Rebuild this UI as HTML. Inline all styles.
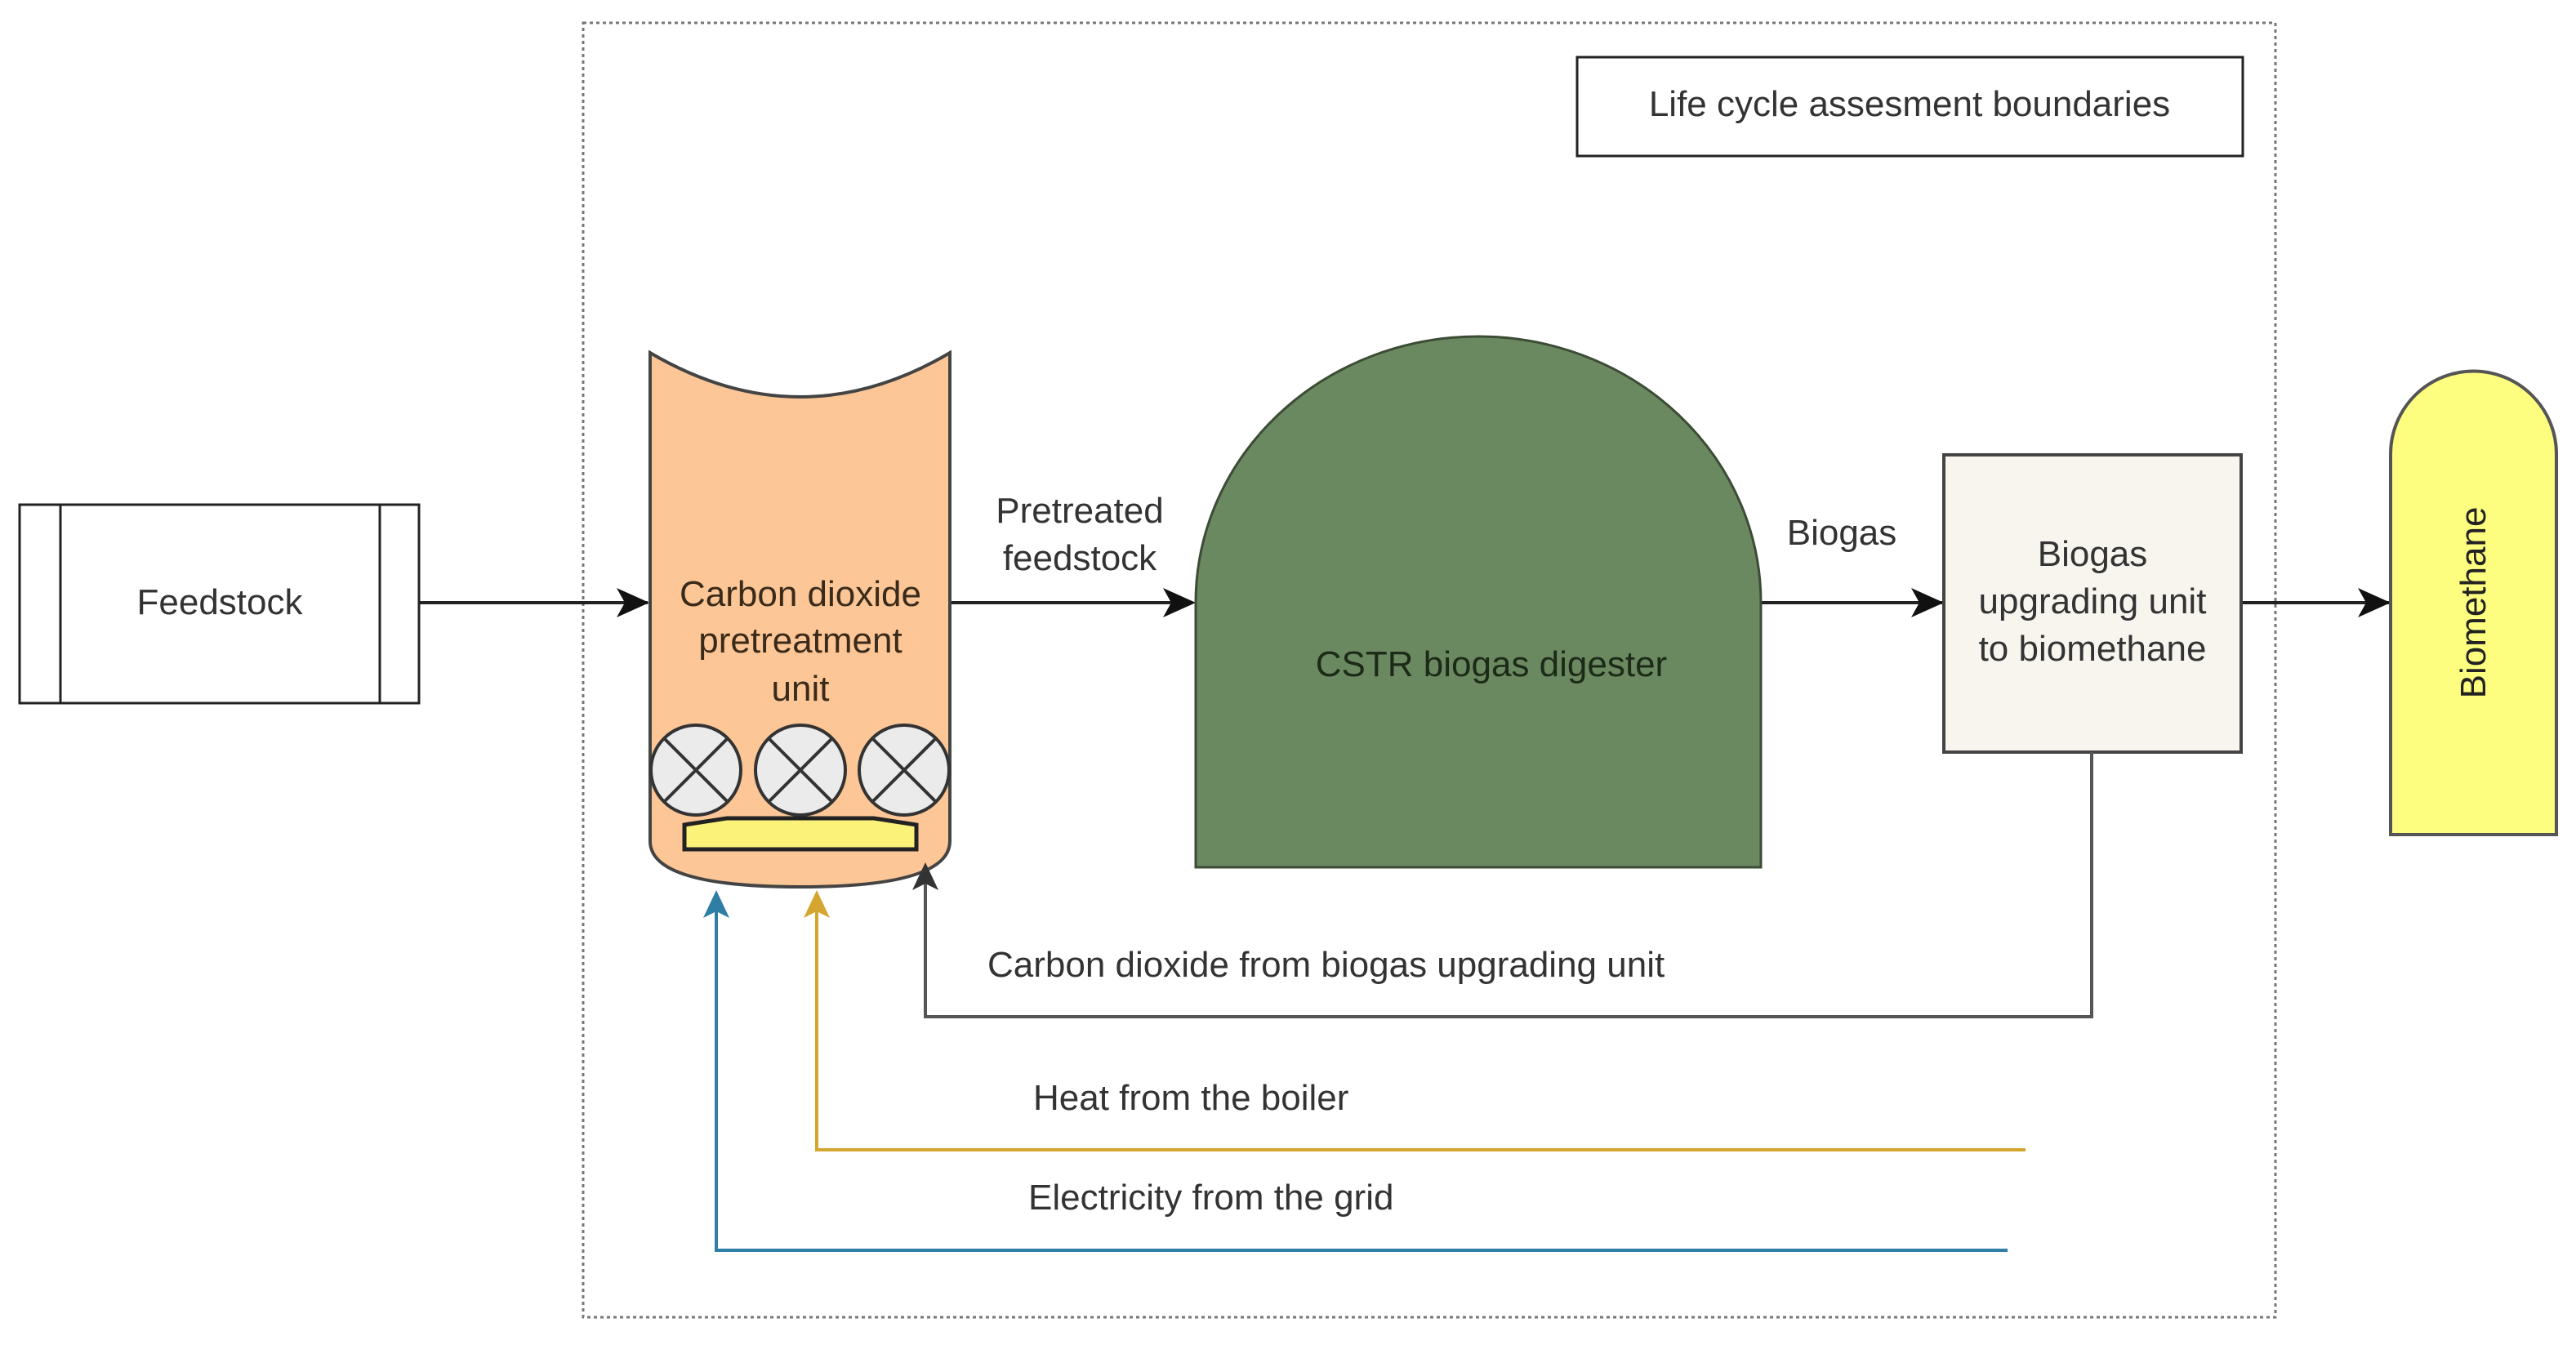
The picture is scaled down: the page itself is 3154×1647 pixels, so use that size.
<!DOCTYPE html>
<html><head><meta charset="utf-8"><style>
html,body{margin:0;padding:0;background:#fff}
svg{display:block}
text{font-family:"Liberation Sans",Arial,sans-serif;font-size:44px;fill:#333}
</style></head><body>
<svg width="3154" height="1647" viewBox="0 0 3154 1647" xmlns="http://www.w3.org/2000/svg">
<defs>
<marker id="ab" viewBox="0 0 10 10" refX="9" refY="5" markerWidth="10" markerHeight="10" markerUnits="userSpaceOnUse" orient="auto"><path d="M0,0 L10,5 L0,10 L3,5 z" fill="#111"/></marker>
</defs>
<rect width="3154" height="1647" fill="#fff"/>
<!-- boundary -->
<rect x="714" y="28" width="2072" height="1585" fill="none" stroke="#777" stroke-width="3" stroke-dasharray="4,4"/>
<rect x="1931" y="70" width="815" height="121" fill="#fff" stroke="#222" stroke-width="3"/>
<text x="2338" y="142" text-anchor="middle">Life cycle assesment  boundaries</text>
<!-- feedstock -->
<rect x="24" y="618" width="489" height="243" fill="#fff" stroke="#222" stroke-width="3"/>
<line x1="74" y1="618" x2="74" y2="861" stroke="#222" stroke-width="3"/>
<line x1="465" y1="618" x2="465" y2="861" stroke="#222" stroke-width="3"/>
<text x="269" y="752" text-anchor="middle">Feedstock</text>
<!-- arrows main -->
<g stroke="#222" stroke-width="4" fill="none">
<line x1="513" y1="738" x2="793" y2="738"/>
<line x1="1163" y1="738" x2="1460" y2="738"/>
<line x1="2156" y1="738" x2="2378" y2="738"/>
<line x1="2744" y1="738" x2="2925" y2="738"/>
</g>
<g fill="#111">
<path d="M795,738 l-40,-18 l10,18 l-10,18z"/>
<path d="M1464,738 l-40,-18 l10,18 l-10,18z"/>
<path d="M2380,738 l-40,-18 l10,18 l-10,18z"/>
<path d="M2927,738 l-40,-18 l10,18 l-10,18z"/>
</g>
<!-- pretreatment cylinder -->
<path d="M796,432 Q980,540 1163,432 L1163,1030 Q1163,1086 980,1086 Q796,1086 796,1030 Z" fill="#fcc696" stroke="#444" stroke-width="4"/>
<text x="980" y="742" text-anchor="middle" style="fill:#3a2a1a">Carbon dioxide</text>
<text x="980" y="799" text-anchor="middle" style="fill:#3a2a1a">pretreatment</text>
<text x="980" y="858" text-anchor="middle" style="fill:#3a2a1a">unit</text>
<g stroke="#333" stroke-width="4" fill="#ebebeb">
<circle cx="852" cy="943" r="55"/><circle cx="980" cy="943" r="55"/><circle cx="1107" cy="943" r="55"/>
</g>
<g stroke="#333" stroke-width="4">
<path d="M813,904 L891,982 M891,904 L813,982"/>
<path d="M941,904 L1019,982 M1019,904 L941,982"/>
<path d="M1068,904 L1146,982 M1146,904 L1068,982"/>
</g>
<path d="M838,1010 L890,1002 L1070,1002 L1122,1010 L1122,1040 L838,1040 Z" fill="#fbf27a" stroke="#222" stroke-width="5"/>
<text x="1322" y="640" text-anchor="middle">Pretreated</text>
<text x="1322" y="698" text-anchor="middle">feedstock</text>
<!-- digester -->
<path d="M1464,1062 L1464,738 A346,326 0 0 1 2156,738 L2156,1062 Z" fill="#6b8961" stroke="#3c4c36" stroke-width="3"/>
<text x="1826" y="828" text-anchor="middle" style="fill:#1c2a18">CSTR biogas digester</text>
<text x="2255" y="667" text-anchor="middle">Biogas</text>
<!-- upgrading -->
<rect x="2380" y="557" width="364" height="364" fill="#f7f5ee" stroke="#444" stroke-width="4"/>
<text x="2562" y="693" text-anchor="middle">Biogas</text>
<text x="2562" y="751" text-anchor="middle">upgrading unit</text>
<text x="2562" y="809" text-anchor="middle">to biomethane</text>
<!-- biomethane -->
<path d="M2927,1022 L2927,556 A101,101 0 0 1 3130,556 L3130,1022 Z" fill="#fdfd80" stroke="#555" stroke-width="4"/>
<text x="0" y="0" text-anchor="middle" transform="translate(3043,738) rotate(-90)" style="fill:#222">Biomethane</text>
<!-- CO2 return -->
<path d="M2561,921 L2561,1245 L1133,1245 L1133,1064" fill="none" stroke="#555" stroke-width="4"/>
<path d="M1133,1056 l-16,34 l16,-8 l16,8z" fill="#333"/>
<text x="1209" y="1196">Carbon dioxide from biogas upgrading unit</text>
<!-- heat -->
<path d="M2480,1408 L1000,1408 L1000,1098" fill="none" stroke="#d4a630" stroke-width="4"/>
<path d="M1000,1090 l-16,34 l16,-8 l16,8z" fill="#d4a630"/>
<text x="1265" y="1359">Heat from the boiler</text>
<!-- electricity -->
<path d="M2458,1531 L877,1531 L877,1098" fill="none" stroke="#2e7ea6" stroke-width="4"/>
<path d="M877,1090 l-16,34 l16,-8 l16,8z" fill="#2e7ea6"/>
<text x="1259" y="1481">Electricity from the grid</text>
</svg>
</body></html>
